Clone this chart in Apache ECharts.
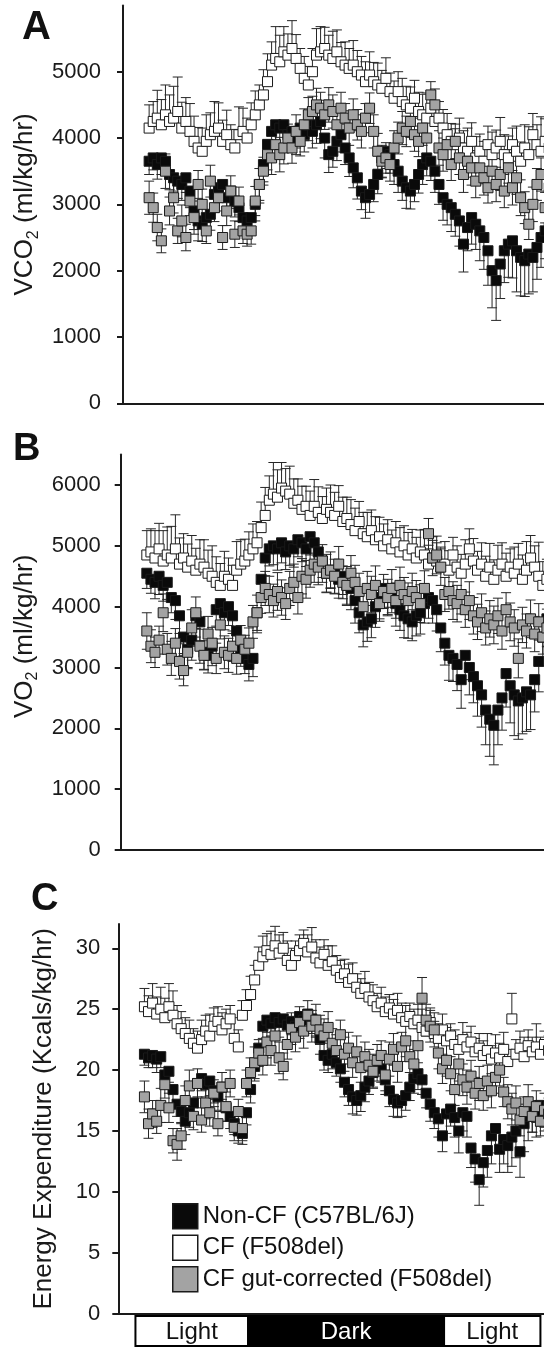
<!DOCTYPE html>
<html><head><meta charset="utf-8">
<script src="https://cdn.jsdelivr.net/npm/echarts@6/dist/echarts.min.js"></script>
<style>html,body{margin:0;padding:0;background:#fff}#c{width:544px;height:1349px}</style>
</head><body><div id="c"></div>
<script>
// ---- data ----
const hours = Array.from({length: 100}, (_, i) => i * 0.25); // sample time (h), 15-min bins
const groupNames = ['Non-CF (C57BL/6J)', 'CF (F508del)', 'CF gut-corrected (F508del)'];
const phaseNames = ['Light', 'Dark', 'Light'];
const phaseStart = [-0.55, 6.35, 18.35];
const phaseEnd = [6.35, 18.35, 24.25];
const yTicksA = [0, 1000, 2000, 3000, 4000, 5000];
const yTicksB = [0, 1000, 2000, 3000, 4000, 5000, 6000];
const yTicksC = [0, 5, 10, 15, 20, 25, 30];

// Panel A: VCO2
const aBlack = [3650,3700,3600,3700,3650, 3450,3400,3350,3300,3400, 3200,2900,2750,2700,2800, 2850,3150,3250,3300,3100, 3200,3050,2950,2800,2750, 2800,3000,3300,3600,3900, 4100,4200,4150,4200,4050, 4100,4000,4150,4050,4200, 4100,4200,4250,4000,3750, 3800,3950,4050,3850,3700, 3550,3400,3200,3100,3150, 3300,3450,3700,3800,3750, 3600,3500,3350,3250,3200, 3300,3450,3600,3700,3650, 3500,3300,3100,3000,2950, 2850,2750,2400,2650,2800, 2700,2600,2500,2300,2000, 1850,2100,2300,2400,2450, 2300,2200,2150,2250,2200, 2350,2500,2600,2650,2700];
const aBlackErr = [200,180,220,250,210, 230,200,260,240,220, 250,280,300,260,230, 240,270,220,250,230, 260,240,210,230,200, 220,250,280,260,240, 230,260,300,280,240, 270,250,230,260,240, 250,280,260,300,270, 240,290,260,250,280, 300,320,280,310,270, 260,290,300,260,280, 300,320,290,310,270, 260,280,300,270,290, 320,300,340,310,360, 330,380,420,350,400, 380,450,480,520,560, 600,520,480,500,560, 620,580,540,600,520, 480,450,420,400,380];
const aWhite = [4150,4250,4300,4200,4350, 4250,4300,4400,4150,4250, 4100,3950,3850,3800,3950, 4050,4100,4150,3950,4050, 3900,3850,4050,4100,4000, 4200,4350,4500,4650,4850, 5100,5200,5150,5300,5250, 5350,5200,5050,4900,4800, 5000,5250,5300,5350,5250, 5200,5300,5150,5100,5050, 5100,5000,4950,4850,4950, 4850,4800,4750,4900,4700, 4600,4700,4550,4500,4450, 4600,4400,4350,4300,4450, 4250,4300,4150,4050,3950, 3900,4000,3850,3800,3950, 3700,3800,3650,3900,3750, 3850,3950,3750,3700,3900, 3800,3650,3850,3750,4050, 3900,3800,3950,3850,3750];
const aWhiteErr = [350,300,420,380,450, 400,480,520,390,360, 420,380,310,350,400, 330,450,380,320,370, 300,280,420,350,300, 330,360,300,380,420, 350,480,400,380,320, 420,360,300,330,280, 350,400,380,320,300, 410,330,290,350,300, 370,320,280,300,350, 290,330,270,310,280, 260,300,350,280,320, 270,290,310,380,260, 300,250,280,320,270, 240,300,260,350,280, 320,260,300,280,340, 270,360,300,330,250, 380,290,350,420,320, 300,520,340,280,310];
const aGray = [3100,2950,2650,2450,3500, 2900,3100,2600,2750,2500, 3050,2800,3300,3000,2600, 3350,2950,3100,2500,2900, 3200,2550,3050,2600,2550, 2600,3050,3300,3500,3750, 3700,3900,3750,3850,4000, 3850,4100,3950,4200,4350, 4400,4500,4450,4350,4500, 4400,4200,4450,4300,4150, 4350,4200,4100,4300,4450, 4100,3800,3650,3700,3600, 3850,4000,4150,4100,4250, 4050,3950,4150,4000,4650, 4500,3850,3750,3900,3600, 3950,3700,3450,3650,3550, 3350,3550,3400,3250,3500, 3300,3450,3200,3550,3250, 3400,3100,2950,2700,3000, 3300,3450,2950,3250,3100];
const aGrayErr = [250,220,200,180,260, 210,230,190,240,200, 220,250,210,230,190, 240,210,200,180,220, 230,200,210,190,180, 200,220,240,210,230, 250,220,260,240,210, 230,250,220,240,260, 230,250,240,220,260, 250,230,240,220,260, 240,230,250,220,230, 250,270,240,230,250, 260,240,250,230,240, 250,230,260,240,200, 240,260,250,230,240, 260,250,270,240,260, 250,240,260,230,250, 260,240,250,230,260, 250,270,240,230,260, 240,250,230,260,240];

// Panel B: VO2
const bBlack = [4550,4450,4400,4500,4350, 4400,4150,4100,3850,3500, 3300,3450,3850,3750,3250, 3200,3350,3950,4050,3900, 4000,3850,3600,3300,3150, 3050,3150,3900,4450,4800, 4950,5000,4950,5050,4900, 5000,4950,5100,5050,4950, 5150,5050,4900,4750,4550, 4600,4550,4450,4500,4350, 4300,4100,3900,3700,3750, 3800,4000,4150,4300,4200, 4250,4050,3950,3850,3800, 3750,3850,3900,4050,4150, 4100,3950,3650,3400,3200, 3150,3050,2800,3200,3000, 2850,2700,2550,2300,2150, 2050,2300,2500,2900,2700, 2550,2450,2500,2600,2550, 2800,3100,3500,3800,3900];
const bBlackErr = [250,230,270,300,260, 280,250,310,290,270, 300,330,350,310,280, 290,320,270,300,280, 310,290,260,280,250, 270,300,330,310,290, 280,310,350,330,290, 320,300,280,310,290, 300,330,310,350,320, 290,340,310,300,330, 350,370,330,360,320, 310,340,350,310,330, 350,370,340,360,320, 310,330,350,320,340, 370,350,390,360,410, 380,430,470,400,450, 430,500,530,570,610, 650,570,530,550,610, 670,630,590,650,570, 530,500,470,450,430];
const bWhite = [4850,4900,4800,4950,4750, 4850,4800,4950,4700,4800, 4650,4750,4600,4700,4650, 4550,4500,4400,4350,4500, 4450,4350,4600,4700,4750, 4850,4950,5050,5300,5500, 5750,5850,5800,5950,5900, 5850,5700,5750,5600,5650, 5500,5650,5550,5450,5600, 5550,5500,5650,5400,5450, 5350,5250,5400,5200,5150, 5250,5100,5150,5000,5100, 4950,5050,4900,5000,4850, 4950,4800,4900,4850,4700, 4800,4750,4650,4700,4600, 4850,4650,4550,4700,4950, 4750,4600,4700,4500,4650, 4450,4600,4700,4500,4650, 4550,4700,4450,4600,4800, 4650,4500,4350,4450,4500];
const bWhiteErr = [400,380,450,420,500, 460,520,560,430,400, 380,420,360,400,450, 380,500,420,360,410, 350,330,470,400,360, 380,410,350,420,460, 400,520,450,420,370, 460,400,350,380,330, 400,440,420,360,350, 450,380,340,400,350, 410,370,330,350,400, 340,380,320,360,330, 310,350,400,330,370, 320,340,360,420,310, 350,300,330,370,320, 290,350,310,400,330, 370,310,350,330,390, 320,410,350,380,300, 430,340,400,470,370, 350,560,390,330,360];
const bGray = [3600,3350,3250,3450,3900, 3300,3150,3400,3100,2950, 3250,3650,3900,3350,3200, 3550,3400,3150,3700,3250, 3200,3350,3150,3450,3300, 3400,3750,3900,4150,4300, 4200,4100,4250,4150,4050, 4300,4400,4150,4500,4450, 4600,4700,4650,4750,4550, 4600,4500,4700,4400,4350, 4550,4400,4250,4000,4300, 4200,4350,4050,4250,4150, 4300,4100,4350,4200,4100, 4250,4150,4050,4300,5200, 4800,4850,4650,4200,4250, 4100,4050,4200,3950,4100, 3850,3750,3900,3650,3800, 3700,3850,3600,3950,3750, 3650,3150,3700,3600,3800, 3550,3750,3500,3650,3700];
const bGrayErr = [300,270,250,230,310, 260,280,240,290,250, 270,300,260,280,240, 290,260,250,230,270, 280,250,260,240,230, 250,270,290,260,280, 300,270,310,290,260, 280,300,270,290,310, 280,300,290,270,310, 300,280,290,270,310, 290,280,300,270,280, 300,320,290,280,300, 310,290,300,280,290, 300,280,310,290,250, 290,310,300,280,290, 310,300,320,290,310, 300,290,310,280,300, 310,290,300,280,310, 300,320,290,280,310, 290,300,280,310,290];

// Panel C: Energy expenditure
const cBlack = [21.3,21.0,21.2,20.9,21.1, 19.6,19.9,18.4,17.2,16.6, 15.8,16.5,17.3,18.9,19.3, 18.8,19.1,18.3,17.8,18.6, 16.9,16.2,15.6,15.0,14.8, 16.5,18.4,20.3,21.8,23.6, 24.1,23.8,24.3,23.9,24.2, 23.7,24.0,23.6,24.4,24.1, 24.6,24.2,23.8,22.6,21.2, 20.8,21.3,20.6,20.1,19.0, 18.4,17.8,17.5,17.9,18.6, 19.1,19.8,20.4,20.1,19.2, 18.3,17.6,17.3,17.5,17.9, 18.6,19.3,19.7,19.2,18.1, 17.2,16.5,16.0,14.6,16.4, 16.8,16.1,15.0,16.5,16.2, 13.6,12.7,11.0,12.4,13.4, 14.6,15.2,13.5,14.3,13.8, 14.5,15.0,13.3,15.6,16.2, 16.8,16.3,17.1,16.6,17.0];
const cBlackErr = [0.9,0.8,1.0,1.1,0.9, 1.0,0.9,1.1,1.0,1.0, 1.1,1.2,1.3,1.1,1.0, 1.0,1.2,1.0,1.1,1.0, 1.1,1.0,0.9,1.0,0.9, 1.0,1.1,1.2,1.1,1.0, 1.0,1.1,1.3,1.2,1.0, 1.2,1.1,1.0,1.1,1.0, 1.1,1.2,1.1,1.3,1.2, 1.0,1.2,1.1,1.1,1.2, 1.3,1.4,1.2,1.3,1.2, 1.1,1.2,1.3,1.1,1.2, 1.3,1.4,1.2,1.3,1.2, 1.1,1.2,1.3,1.2,1.2, 1.4,1.3,1.5,1.3,1.6, 1.4,1.6,1.8,1.5,1.7, 1.6,1.9,2.1,2.0,2.2, 2.3,2.0,1.9,2.0,2.2, 2.4,2.2,2.1,2.3,2.0, 1.9,1.8,1.7,1.6,1.5];
const cWhite = [25.2,24.8,25.5,24.6,25.0, 24.3,25.2,24.5,23.8,23.4, 23.0,22.6,22.2,21.8,22.5, 23.2,22.8,23.6,24.0,23.3, 23.8,24.2,22.6,21.9,24.5, 25.3,26.2,27.4,28.6,29.3, 29.8,29.5,30.2,29.6,30.0, 29.0,28.6,29.4,29.8,30.4, 29.7,30.1,29.2,28.8,29.5, 28.6,28.9,28.2,27.6,27.9, 27.2,27.5,26.8,26.3,26.7, 26.0,25.7,25.2,25.5,24.8, 25.1,24.6,24.9,24.3,24.0, 24.4,23.8,24.1,23.5,23.2, 23.9,23.0,22.6,23.3,22.4, 22.8,22.1,21.7,22.5,21.9, 22.3,21.5,21.8,21.2,21.6, 20.9,21.4,21.0,21.7,20.7, 24.2,21.3,21.8,21.1,22.0, 21.5,21.9,21.3,22.1,21.6];
const cWhiteErr = [1.5,1.3,1.6,1.4,1.8, 1.6,1.9,2.0,1.5,1.4, 1.3,1.5,1.2,1.4,1.6, 1.3,1.8,1.5,1.2,1.4, 1.2,1.1,1.7,1.4,1.2, 1.3,1.5,1.2,1.5,1.7, 1.4,1.9,1.6,1.5,1.3, 1.6,1.4,1.2,1.3,1.1, 1.4,1.6,1.5,1.3,1.2, 1.6,1.3,1.2,1.4,1.2, 1.5,1.3,1.1,1.2,1.4, 1.2,1.3,1.1,1.3,1.2, 1.1,1.2,1.4,1.2,1.3, 1.1,1.2,1.3,1.5,1.1, 1.2,1.0,1.2,1.3,1.1, 1.0,1.2,1.1,1.4,1.2, 1.3,1.1,1.2,1.2,1.4, 1.1,1.5,1.2,1.4,1.0, 2.1,1.2,1.4,1.6,1.3, 1.2,1.9,1.4,1.1,1.2];
const cGray = [17.8,15.6,16.4,15.8,17.1, 18.8,16.9,14.2,13.9,14.6, 17.5,18.7,16.2,18.9,15.9, 17.3,16.5,18.1,15.6,18.6, 17.0,18.9,15.3,16.6,15.2, 18.9,19.8,20.6,21.4,20.8, 22.3,21.6,22.8,21.0,20.3, 22.1,23.4,22.7,23.9,23.2, 24.5,23.6,24.1,23.3,22.8, 23.5,22.2,21.6,22.9,21.3, 21.8,20.6,21.5,20.2,21.1, 20.4,19.9,20.8,21.2,19.6, 20.9,21.7,20.3,21.9,22.4, 21.1,20.5,22.0,25.9,24.1, 23.6,23.3,21.4,20.1,20.8, 19.7,18.4,20.5,19.2,18.6, 19.5,18.1,18.9,17.9,19.1, 18.3,19.4,20.0,18.2,17.4, 16.8,17.3,15.9,16.6,17.4, 16.2,17.0,15.8,16.7,16.4];
const cGrayErr = [1.3,1.2,1.1,1.0,1.4, 1.1,1.2,1.0,1.3,1.1, 1.2,1.3,1.1,1.2,1.0, 1.3,1.1,1.1,1.0,1.2, 1.2,1.1,1.1,1.0,1.0, 1.1,1.2,1.3,1.1,1.2, 1.3,1.2,1.4,1.3,1.1, 1.2,1.3,1.2,1.3,1.4, 1.2,1.3,1.3,1.2,1.4, 1.3,1.2,1.3,1.2,1.4, 1.3,1.2,1.3,1.2,1.2, 1.3,1.4,1.3,1.2,1.3, 1.4,1.3,1.3,1.2,1.3, 1.3,1.2,1.4,1.7,1.3, 1.3,1.4,1.3,1.2,1.3, 1.4,1.3,1.4,1.3,1.4, 1.3,1.3,1.4,1.2,1.3, 1.4,1.3,1.3,1.2,1.4, 1.3,1.4,1.3,1.2,1.4, 1.3,1.3,1.2,1.4,1.3];

// ---- chart ----
const FONT = '"Liberation Sans", Arial, Helvetica, sans-serif';
const INK = '#1a1a1a';
const fills = ['#0a0a0a', '#ffffff', '#a3a3a3'];
const errDir = [-1, 1, 0]; // black: minus, white: plus, gray: both

const panels = [
  {vals: [aBlack, aWhite, aGray], errs: [aBlackErr, aWhiteErr, aGrayErr]},
  {vals: [bBlack, bWhite, bGray], errs: [bBlackErr, bWhiteErr, bGrayErr]},
  {vals: [cBlack, cWhite, cGray], errs: [cBlackErr, cWhiteErr, cGrayErr]}
];

const gridW = 450.7;
const grids = [
  {left: 123, top: 5.4, width: gridW, height: 397.9, outerBoundsMode: 'none', containLabel: false},
  {left: 120.7, top: 454.6, width: gridW, height: 395.4, outerBoundsMode: 'none', containLabel: false},
  {left: 118.3, top: 923.9, width: gridW, height: 389.8, outerBoundsMode: 'none', containLabel: false},
  {left: 118.3, top: 1316, width: gridW, height: 30, outerBoundsMode: 'none', containLabel: false}
];

function makeErr(dir) {
  return function (params, api) {
    const x = api.value(0), v = api.value(1), e = api.value(2);
    const c = api.coord([x, v]);
    const kids = [];
    const st = {stroke: '#262626', lineWidth: 1};
    const dirs = dir === 0 ? [1, -1] : [dir];
    dirs.forEach(d => {
      const t = api.coord([x, v + d * e]);
      kids.push({type: 'line', shape: {x1: c[0], y1: c[1], x2: t[0], y2: t[1]}, style: st});
      kids.push({type: 'line', shape: {x1: t[0] - 5, y1: t[1], x2: t[0] + 5, y2: t[1]}, style: st});
    });
    return {type: 'group', children: kids};
  };
}

function renderPhase(params, api) {
  const s = api.value(0), e = api.value(1), k = api.value(2);
  const p0 = api.coord([s, 1]), p1 = api.coord([e, 0]);
  const dark = phaseNames[k] === 'Dark';
  return {type: 'group', children: [
    {type: 'rect', shape: {x: p0[0], y: p0[1], width: p1[0] - p0[0], height: p1[1] - p0[1]},
     style: {fill: dark ? '#000' : '#fff', stroke: '#000', lineWidth: 2}},
    {type: 'text', style: {text: phaseNames[k], x: (p0[0] + p1[0]) / 2, y: (p0[1] + p1[1]) / 2 + 1,
      align: 'center', verticalAlign: 'middle', textAlign: 'center', textVerticalAlign: 'middle',
      fill: dark ? '#fff' : '#111', fontSize: 24, fontFamily: FONT}}
  ]};
}

const series = [];
panels.forEach((p, g) => {
  for (let s = 0; s < 3; s++) {
    series.push({
      type: 'custom', xAxisIndex: g, yAxisIndex: g, silent: true, z: 2, clip: true,
      renderItem: makeErr(errDir[s]),
      encode: {x: 0, y: 1},
      data: p.vals[s].map((v, i) => [hours[i], v, p.errs[s][i]])
    });
    series.push({
      type: 'scatter', name: groupNames[s], xAxisIndex: g, yAxisIndex: g, z: 2,
      symbol: 'rect', symbolSize: 10, silent: true,
      itemStyle: {color: fills[s], borderColor: INK, borderWidth: 1, opacity: 1},
      emphasis: {disabled: true},
      data: p.vals[s].map((v, i) => [hours[i], v])
    });
  }
});
series.push({
  type: 'custom', xAxisIndex: 3, yAxisIndex: 3, silent: true,
  renderItem: renderPhase, encode: {x: [0, 1], y: 2},
  data: phaseNames.map((n, i) => [phaseStart[i], phaseEnd[i], i])
});

function xAx(g, show) {
  return {gridIndex: g, type: 'value', min: -1.6, max: 26, show: show,
    axisLine: {show: true, onZero: false, lineStyle: {color: INK, width: 2}},
    axisTick: {show: false}, axisLabel: {show: false}, splitLine: {show: false}};
}
const nameStyle = {fontSize: 26, fontFamily: FONT, color: INK, lineHeight: 32,
  rich: {s: {fontSize: 16, fontFamily: FONT, color: INK, verticalAlign: 'bottom', lineHeight: 16}}};
function yAx(g, max, interval, ticks, name, gap, margin, pad) {
  return {gridIndex: g, type: 'value', min: 0, max: max, interval: interval,
    axisLine: {show: true, onZero: false, lineStyle: {color: INK, width: 2}},
    axisTick: {show: true, length: 6, lineStyle: {color: INK, width: 2}, customValues: ticks},
    axisLabel: {customValues: ticks, fontSize: 22, color: INK, fontFamily: FONT, margin: margin,
      formatter: function (v) { return String(v); }},
    splitLine: {show: false},
    name: name, nameLocation: 'middle', nameGap: gap,
    nameTextStyle: Object.assign({}, nameStyle, {padding: pad})};
}

const option = {
  animation: false,
  backgroundColor: '#fff',
  textStyle: {fontFamily: FONT},
  title: [
    {text: 'A', left: 22, top: 8, padding: 0, textStyle: {fontSize: 40, fontWeight: 'bold', color: '#111', fontFamily: FONT}},
    {text: 'B', left: 13, top: 431, padding: 0, textStyle: {fontSize: 38, fontWeight: 'bold', color: '#111', fontFamily: FONT}},
    {text: 'C', left: 31, top: 881, padding: 0, textStyle: {fontSize: 38, fontWeight: 'bold', color: '#111', fontFamily: FONT}}
  ],
  grid: grids,
  xAxis: [xAx(0, true), xAx(1, true), xAx(2, true), xAx(3, false)],
  yAxis: [
    yAx(0, 6000, 1000, yTicksA, 'VCO{s|2} (ml/kg/hr)', 80, 22, [0, 0, 0, 0]),
    yAx(1, 6500, 1000, yTicksB, 'VO{s|2} (ml/kg/hr)', 79, 20, [0, 0, 0, 32]),
    yAx(2, 32, 5, yTicksC, 'Energy Expenditure (Kcals/kg/hr)', 58, 18, [0, 0, 0, 0]),
    {gridIndex: 3, type: 'value', min: 0, max: 1, show: false}
  ],
  legend: {
    data: groupNames, orient: 'vertical', left: 172, top: 1203, padding: 0,
    itemWidth: 25, itemHeight: 25, itemGap: 5, icon: 'rect', selectedMode: false,
    itemStyle: {borderColor: INK, borderWidth: 1.5},
    textStyle: {fontSize: 24, color: '#111', fontFamily: FONT}
  },
  series: series
};

const chart = echarts.init(document.getElementById('c'), null, {renderer: 'canvas'});
chart.setOption(option);
</script>
</body></html>
